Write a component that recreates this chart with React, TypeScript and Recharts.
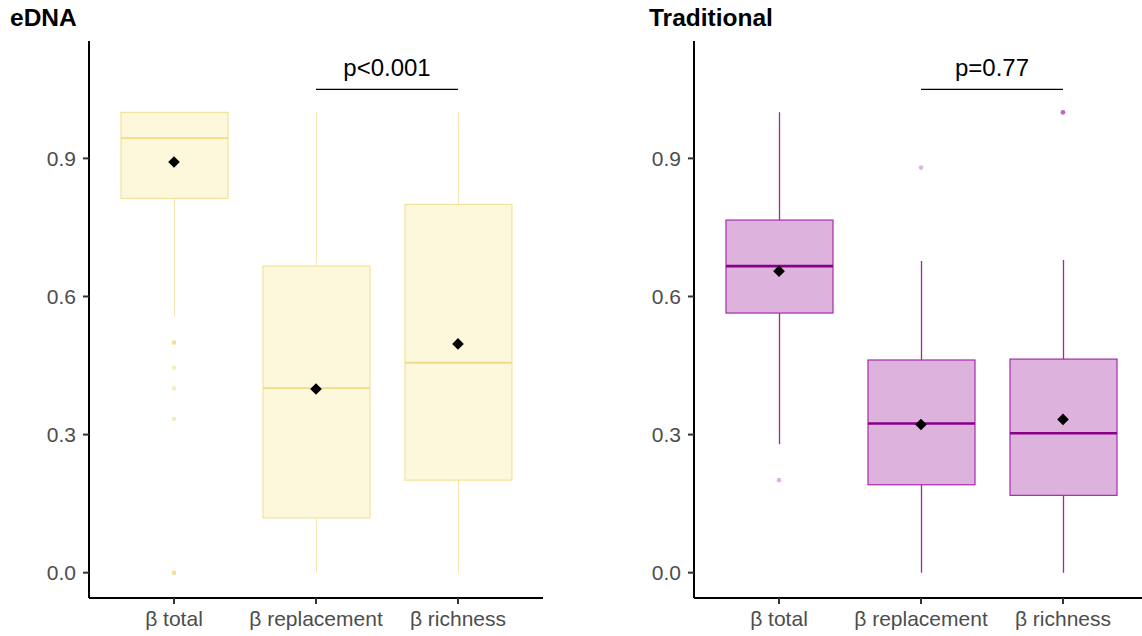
import { Bar, ComposedChart, ReferenceLine, Scatter, XAxis, YAxis } from "recharts";

const categories = ["β total", "β replacement", "β richness"];
const yTicks = [0, 0.3, 0.6, 0.9];
const bracketY = 1.05;

// eDNA panel
const ednaMin = [0.556, 0.0, 0.0];
const ednaQ1 = [0.813, 0.119, 0.201];
const ednaMedian = [0.944, 0.401, 0.456];
const ednaQ3 = [1.0, 0.666, 0.8];
const ednaMax = [1.0, 1.0, 1.0];
const ednaMean = [0.892, 0.399, 0.497];
const ednaOutliers = [[0.5, 0.5, 0.445, 0.4, 0.334, 0.0, 0.0], [], []];
const ednaP = "p<0.001";

// Traditional panel
const tradMin = [0.279, 0.0, 0.0];
const tradQ1 = [0.564, 0.191, 0.168];
const tradMedian = [0.666, 0.324, 0.303];
const tradQ3 = [0.766, 0.462, 0.464];
const tradMax = [1.0, 0.677, 0.679];
const tradMean = [0.655, 0.322, 0.333];
const tradOutliers = [[0.201], [0.88], [1.0, 1.0, 1.0]];
const tradP = "p=0.77";

type Theme = {
  fill: string;
  stroke: string;
  whisker: string;
  whiskerWidth: number;
  median: string;
  medianWidth: number;
  point: string;
};

const ednaTheme: Theme = {
  fill: "#FDF7DC",
  stroke: "#F3E29C",
  whisker: "#F3E6B0",
  whiskerWidth: 1,
  median: "#EFDB8C",
  medianWidth: 1.8,
  point: "#EBCF60",
};

const tradTheme: Theme = {
  fill: "#DDB3DD",
  stroke: "#A52AAA",
  whisker: "#9B2A9F",
  whiskerWidth: 1.3,
  median: "#8B008B",
  medianWidth: 2.6,
  point: "#B040B8",
};

const font = "'Liberation Sans', Arial, sans-serif";

function buildRows(
  mins: number[],
  q1s: number[],
  meds: number[],
  q3s: number[],
  maxs: number[],
  means: number[]
) {
  return categories.map((cat, i) => ({
    cat,
    whisker: [mins[i], maxs[i]],
    lo: mins[i],
    q1: q1s[i],
    median: meds[i],
    q3: q3s[i],
    hi: maxs[i],
    mean: means[i],
  }));
}

function buildOutliers(outs: number[][]) {
  return outs.flatMap((vals, i) => vals.map((value) => ({ cat: categories[i], value })));
}

// box + whiskers, positioned from the bar's [min, max] extent
function BoxShape(props: any) {
  const { x, y, width, height, payload, theme } = props;
  if (!payload) return null;
  const top = Math.min(y, y + height);
  const bottom = Math.max(y, y + height);
  const { lo, hi, q1, q3, median } = payload;
  const span = hi - lo || 1;
  const py = (v: number) => top + ((bottom - top) * (hi - v)) / span;
  const cx = x + width / 2;
  const t: Theme = theme;
  return (
    <g>
      <line x1={cx} x2={cx} y1={py(hi)} y2={py(lo)} stroke={t.whisker} strokeWidth={t.whiskerWidth} />
      <rect
        x={x}
        y={py(q3)}
        width={width}
        height={py(q1) - py(q3)}
        fill={t.fill}
        stroke={t.stroke}
        strokeWidth={1.2}
      />
      <line x1={x} x2={x + width} y1={py(median)} y2={py(median)} stroke={t.median} strokeWidth={t.medianWidth} />
    </g>
  );
}

function Diamond(props: any) {
  const { cx, cy } = props;
  const r = 5.8;
  return <polygon points={`${cx},${cy - r} ${cx + r},${cy} ${cx},${cy + r} ${cx - r},${cy}`} fill="#000" />;
}

function Dot(props: any) {
  const { cx, cy, color } = props;
  return <circle cx={cx} cy={cy} r={2.3} fill={color} fillOpacity={0.4} />;
}

function Panel({
  rows,
  outliers,
  theme,
  pLabel,
}: {
  rows: ReturnType<typeof buildRows>;
  outliers: { cat: string; value: number }[];
  theme: Theme;
  pLabel: string;
}) {
  return (
    <ComposedChart width={560} height={636} data={rows} margin={{ top: 41, right: 17, bottom: 0, left: 0 }}>
      <XAxis
        dataKey="cat"
        type="category"
        allowDuplicatedCategory={false}
        padding={{ left: 14, right: 14 }}
        height={38}
        axisLine={{ stroke: "#000", strokeWidth: 2 }}
        tickLine={{ stroke: "#333", strokeWidth: 2 }}
        tickSize={6}
        tickMargin={7}
        tick={{ fill: "#4D4D4D", fontSize: 21, fontFamily: font }}
        interval={0}
      />
      <YAxis
        type="number"
        domain={[-0.055, 1.155]}
        allowDataOverflow
        ticks={yTicks}
        tickFormatter={(v: number) => v.toFixed(1)}
        width={89}
        axisLine={{ stroke: "#000", strokeWidth: 2 }}
        tickLine={{ stroke: "#333", strokeWidth: 2 }}
        tickSize={6}
        tickMargin={7}
        tick={{ fill: "#4D4D4D", fontSize: 21, fontFamily: font }}
      />
      <Bar
        dataKey="whisker"
        barSize={107}
        isAnimationActive={false}
        shape={(p: any) => <BoxShape {...p} theme={theme} />}
      />
      <Scatter
        data={outliers}
        dataKey="value"
        isAnimationActive={false}
        shape={(p: any) => <Dot {...p} color={theme.point} />}
      />
      <Scatter dataKey="mean" isAnimationActive={false} shape={(p: any) => <Diamond {...p} />} />
      <ReferenceLine
        segment={[
          { x: categories[1], y: bracketY },
          { x: categories[2], y: bracketY },
        ]}
        stroke="#000"
        strokeWidth={1.2}
        ifOverflow="visible"
        label={{ value: pLabel, position: "top", offset: 13, fontSize: 24, fill: "#000", fontFamily: font }}
      />
    </ComposedChart>
  );
}

const titleStyle = {
  position: "absolute" as const,
  top: 6,
  fontFamily: font,
  fontWeight: 700,
  fontSize: 24.5,
  lineHeight: "24px",
  color: "#000",
};

export default function App() {
  const ednaRows = buildRows(ednaMin, ednaQ1, ednaMedian, ednaQ3, ednaMax, ednaMean);
  const tradRows = buildRows(tradMin, tradQ1, tradMedian, tradQ3, tradMax, tradMean);
  return (
    <div
      style={{
        position: "fixed",
        left: 0,
        top: 0,
        width: 1142,
        height: 636,
        overflow: "hidden",
        background: "#fff",
        fontFamily: font,
      }}
    >
      <div style={{ position: "absolute", left: 0, top: 0 }}>
        <Panel rows={ednaRows} outliers={buildOutliers(ednaOutliers)} theme={ednaTheme} pLabel={ednaP} />
      </div>
      <div style={{ position: "absolute", left: 605, top: 0 }}>
        <Panel rows={tradRows} outliers={buildOutliers(tradOutliers)} theme={tradTheme} pLabel={tradP} />
      </div>
      <div style={{ ...titleStyle, left: 10 }}>eDNA</div>
      <div style={{ ...titleStyle, left: 649 }}>Traditional</div>
    </div>
  );
}
